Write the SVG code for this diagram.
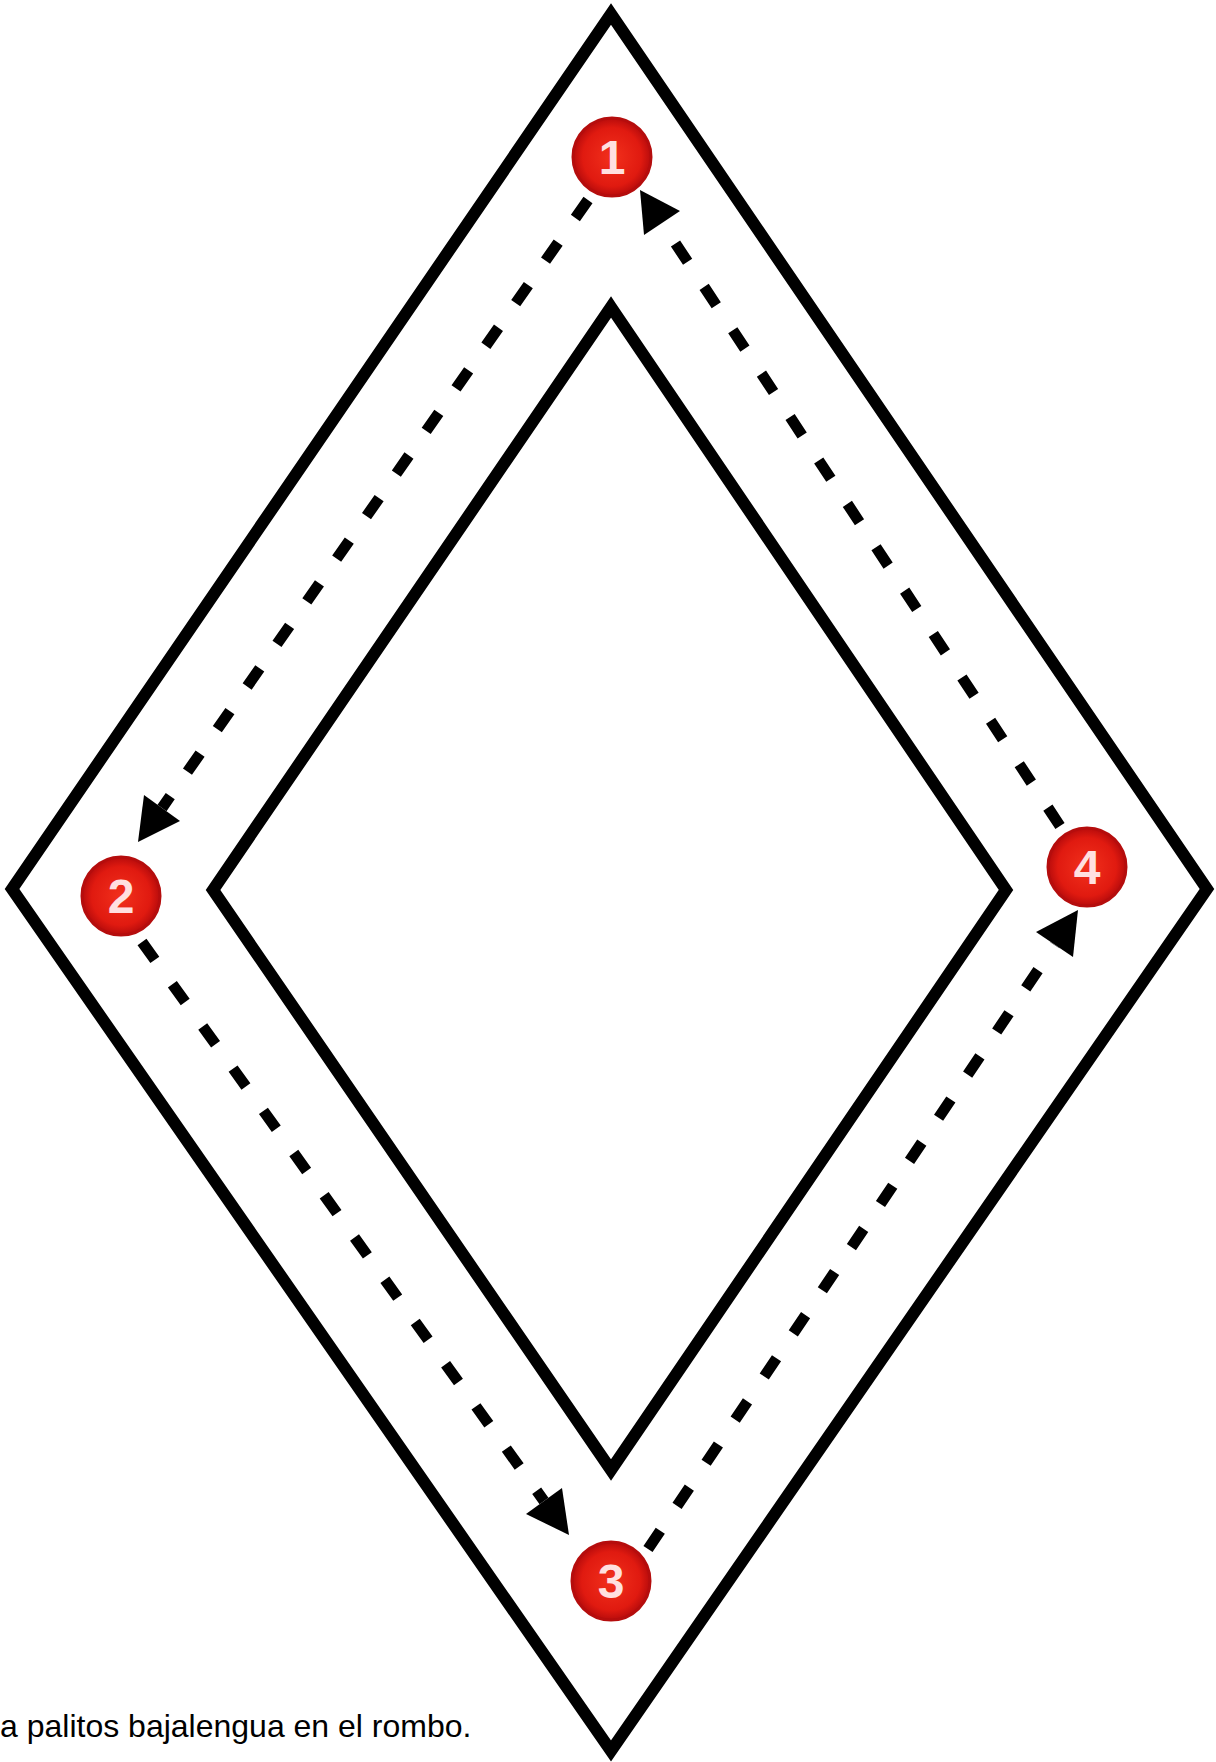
<svg xmlns="http://www.w3.org/2000/svg" width="1216" height="1762" viewBox="0 0 1216 1762">
<style>
.frame{fill:none;stroke:#000;stroke-width:12;stroke-linejoin:miter;stroke-miterlimit:10}
.dash{fill:none;stroke:#000;stroke-width:11;stroke-dasharray:22 30}
.head{fill:#000}
.badge{fill:url(#rg);stroke:#b50d0d;stroke-width:3}
.num{font-family:"Liberation Sans",Arial,sans-serif;font-weight:bold;font-size:48px;fill:#ffe0e0;text-anchor:middle}
.caption{font-family:"Liberation Sans",Arial,sans-serif;font-size:32px;fill:#000}
</style>
<defs>
<radialGradient id="rg" cx="0.5" cy="0.5" r="0.5">
<stop offset="0" stop-color="#f2301c"/>
<stop offset="0.75" stop-color="#e01a10"/>
<stop offset="1" stop-color="#b80c0c"/>
</radialGradient>
</defs>
<rect width="1216" height="1762" fill="#fff"/>
<g id="outer-diamond"><polygon class="frame" points="611,14 1207,889 611,1751 12,889"/></g>
<g id="inner-diamond"><polygon class="frame" points="611,307 1006,890 611,1470 213,890"/></g>
<g id="connectors">
<path class="dash" d="M588,200 L162,808"/>
<polygon class="head" points="138,842 180,821 144,795"/>
<path class="dash" d="M142,942 L544,1501"/>
<polygon class="head" points="569,1535 562,1488 526,1514"/>
<path class="dash" d="M648,1549 L1055,945"/>
<polygon class="head" points="1078,910 1073,957 1036,932"/>
<path class="dash" d="M1060,826 L662,223"/>
<polygon class="head" points="640,190 680,211 644,235"/>
</g>
<g id="node-1"><circle class="badge" cx="612" cy="157" r="39"/><text class="num" x="612" y="174">1</text></g>
<g id="node-2"><circle class="badge" cx="121" cy="896" r="39"/><text class="num" x="121" y="913">2</text></g>
<g id="node-3"><circle class="badge" cx="611" cy="1581" r="39"/><text class="num" x="611" y="1598">3</text></g>
<g id="node-4"><circle class="badge" cx="1087" cy="867" r="39"/><text class="num" x="1087" y="884">4</text></g>
<text class="caption" x="0" y="1737">a palitos bajalengua en el rombo.</text>
</svg>
